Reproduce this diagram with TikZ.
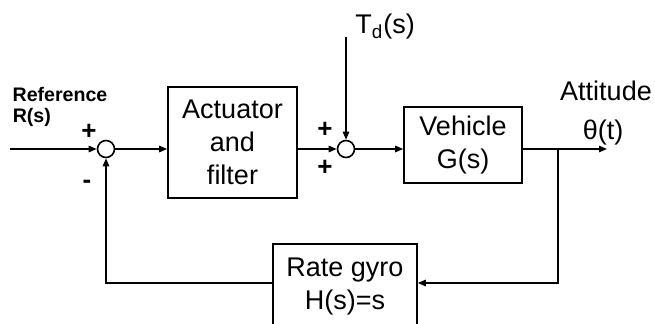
\documentclass[tikz,border=0pt]{standalone}
\usepackage{fontspec}
\setmainfont{Liberation Sans}
\usetikzlibrary{arrows.meta}
\begin{document}
\begin{tikzpicture}[x=0.5pt, y=-0.5pt, >={Triangle[length=4pt,width=3.2pt]}, line width=0.8pt,
		every node/.style={font=\fontsize{13.5}{16.5}\selectfont, inner sep=0pt},
		blockbox/.style={draw, align=center},
		sumnode/.style={draw, circle, minimum size=8.5pt},
		smalllabel/.style={font=\fontsize{9.8}{11}\selectfont\bfseries},
		signlabel/.style={font=\fontsize{13}{13}\selectfont\bfseries}]
				\clip (0,0) rectangle (655,323);
				% 1. 方框
				\node[blockbox, minimum width=64.5pt, minimum height=55.5pt] (act) at (232.5,142.5) {Actuator\\and\\filter};
				\node[blockbox, minimum width=59pt, minimum height=38pt] (veh) at (463,145) {Vehicle\\G(s)};
				\node[blockbox, minimum width=72pt, minimum height=43pt] (gyro) at (345,287) {Rate gyro\\H(s)=s};
				
				% 2. 求和点与辅助坐标
				\node[sumnode] (s1) at (106,149) {};
				\node[sumnode] (s2) at (346,149) {};
				\coordinate (in) at (10,149);
				\coordinate (dist) at (346,37);
				\coordinate (out) at (607,149);
				\coordinate (br) at (558,149);
				\coordinate (fb) at (558,283);
				\coordinate (fbL) at (106,283);
				
				% 3. 信号连线
				\draw[->] (in) -- (s1);
				\draw[->] (s1) -- (s1 -| act.west);
				\draw[->] (s1 -| act.east) -- (s2);
				\draw[->] (dist) -- (s2);
				\draw[->] (s2) -- (s2 -| veh.west);
				\draw[->] (s2 -| veh.east) -- (out);
				\draw[->] (br) -- (fb) -- (fb -| gyro.east);
				\draw[->] (fb -| gyro.west) -- (fbL) -- (s1);
				
				% 4. 文字标注
				\node[smalllabel] (reflab) at (60,94) {Reference};
				\node[smalllabel, anchor=west] (rlab) at (12,117) {R(s)};
				\node[signlabel] (p1) at (89,132) {+};
				\node[signlabel] (m1) at (87,184) {-};
				\node[signlabel] (p2) at (325,130) {+};
				\node[signlabel] (p3) at (325,168) {+};
				\node (tdlab) at (385,27) {T\textsubscript{d}(s)};
				\node (attlab) at (606,91) {Attitude};
				\node (thlab) at (603,133) {θ(t)};
			\end{tikzpicture}
\end{document}
